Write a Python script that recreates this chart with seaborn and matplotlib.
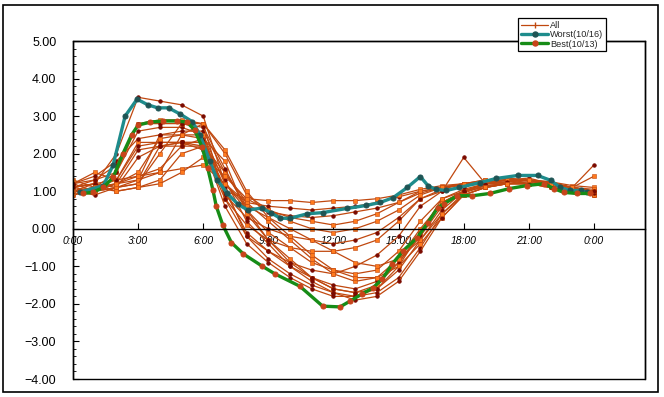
import matplotlib
matplotlib.use("Agg")
import matplotlib.pyplot as plt
import seaborn as sns
import pandas as pd
from matplotlib.patches import Rectangle
from matplotlib.lines import Line2D
from matplotlib.ticker import MultipleLocator, FixedLocator

# ---------------- data ----------------
hours = list(range(25))

day01 = [1.1, 1.2, 2.0, 3.5, 3.4, 3.3, 3.0, 1.2, 0.7, 0.6, 0.55, 0.5, 0.55, 0.6, 0.7, 0.85, 1.0, 1.1, 1.2, 1.25, 1.3, 1.3, 1.2, 1.1, 1.0]
day02 = [1.0, 1.1, 1.3, 2.3, 2.3, 2.3, 2.2, 1.0, 0.8, 0.75, 0.75, 0.7, 0.75, 0.75, 0.8, 0.9, 1.05, 1.15, 1.2, 1.3, 1.35, 1.3, 1.25, 1.15, 1.1]
day03 = [1.2, 1.0, 1.1, 1.3, 2.5, 2.6, 2.6, 1.5, 0.6, 0.45, 0.35, 0.3, 0.35, 0.45, 0.55, 0.7, 0.95, 1.1, 1.15, 1.25, 1.3, 1.35, 1.2, 1.1, 0.95]
day04 = [1.1, 1.3, 1.5, 2.8, 2.9, 2.9, 2.8, 0.8, 0.1, -0.3, -0.5, -0.6, -0.6, -0.5, -0.3, 0.2, 0.8, 1.05, 1.2, 1.3, 1.3, 1.3, 1.2, 1.05, 0.95]
day05 = [1.0, 0.9, 1.1, 1.2, 2.2, 2.3, 2.3, 1.1, -0.2, -0.6, -0.9, -1.1, -1.2, -1.0, -0.7, -0.2, 0.6, 1.0, 1.15, 1.2, 1.3, 1.3, 1.2, 1.1, 1.0]
day06 = [1.2, 1.5, 1.3, 1.4, 1.6, 2.2, 2.4, 1.8, 0.4, -0.3, -0.8, -1.3, -1.6, -1.7, -1.5, -0.9, -0.1, 0.7, 1.0, 1.15, 1.2, 1.25, 1.2, 1.1, 0.9]
day07 = [0.9, 1.0, 1.2, 2.1, 2.2, 2.2, 2.2, 0.6, -0.4, -0.9, -1.3, -1.6, -1.8, -1.8, -1.6, -1.0, -0.1, 0.8, 1.05, 1.2, 1.25, 1.3, 1.15, 1.05, 0.9]
day08 = [1.1, 1.2, 1.0, 1.1, 1.3, 2.0, 2.2, 1.5, 0.7, 0.2, -0.3, -0.8, -1.2, -1.4, -1.3, -0.8, 0.0, 0.7, 1.0, 1.2, 1.25, 1.3, 1.2, 1.1, 1.0]
day09 = [1.0, 1.1, 1.5, 2.6, 2.7, 2.7, 2.5, 0.9, 0.3, 0.0, -0.2, -0.3, -0.4, -0.3, -0.1, 0.3, 0.8, 1.0, 1.9, 1.2, 1.2, 1.25, 1.1, 1.0, 1.0]
day10 = [1.3, 1.1, 1.2, 1.3, 1.5, 2.5, 2.8, 2.0, 0.9, 0.5, 0.2, 0.0, -0.1, 0.0, 0.2, 0.5, 0.9, 1.1, 1.2, 1.25, 1.3, 1.3, 1.2, 1.1, 1.05]
day11 = [1.0, 1.2, 1.1, 1.9, 2.2, 2.3, 2.3, 1.3, 0.2, -0.4, -1.0, -1.4, -1.7, -1.8, -1.7, -1.3, -0.5, 0.4, 0.95, 1.15, 1.2, 1.2, 1.1, 1.0, 0.9]
day12 = [1.1, 1.0, 1.2, 1.4, 1.5, 1.6, 1.7, 1.2, 0.5, -0.1, -0.5, -0.9, -1.1, -1.2, -1.1, -0.6, 0.2, 0.8, 1.0, 1.1, 1.2, 1.2, 1.15, 1.05, 0.95]
day13 = [1.2, 1.4, 1.8, 2.4, 2.5, 2.5, 2.4, 1.0, -0.1, -0.6, -1.0, -1.3, -1.5, -1.6, -1.4, -0.9, -0.2, 0.6, 1.0, 1.2, 1.3, 1.3, 1.25, 1.1, 1.7]
day14 = [1.0, 1.0, 1.1, 1.2, 2.0, 2.8, 2.8, 2.1, 1.0, 0.3, -0.2, -0.7, -1.1, -1.3, -1.3, -1.0, -0.4, 0.3, 0.9, 1.1, 1.2, 1.2, 1.1, 1.0, 0.9]
day15 = [1.1, 1.2, 1.3, 2.2, 2.3, 2.3, 2.1, 0.8, -0.2, -0.8, -1.2, -1.5, -1.7, -1.9, -1.8, -1.4, -0.6, 0.3, 0.9, 1.1, 1.2, 1.2, 1.1, 1.0, 0.95]
day16 = [0.9, 1.1, 1.0, 1.1, 1.2, 1.5, 1.9, 1.4, 0.8, 0.5, 0.3, 0.2, 0.1, 0.2, 0.4, 0.7, 1.0, 1.1, 1.2, 1.25, 1.3, 1.3, 1.2, 1.1, 1.0]
day17 = [1.2, 1.3, 1.7, 2.8, 2.8, 2.8, 2.7, 1.6, 0.5, -0.3, -0.9, -1.3, -1.6, -1.7, -1.6, -1.1, -0.3, 0.5, 1.0, 1.2, 1.25, 1.3, 1.2, 1.1, 1.0]
day18 = [1.0, 1.1, 1.2, 1.5, 2.4, 2.5, 2.5, 1.2, 0.6, 0.3, 0.0, -0.3, -0.6, -0.9, -1.0, -0.8, -0.3, 0.4, 0.9, 1.1, 1.2, 1.3, 1.2, 1.1, 1.4]

all_days = [day01, day02, day03, day04, day05, day06, day07, day08, day09,
            day10, day11, day12, day13, day14, day15, day16, day17, day18]

worst_hours = [0.3, 1.4, 1.85, 2.4, 2.95, 3.45, 3.9, 4.4, 4.95, 5.5, 5.85, 6.3, 6.65, 7.1, 7.6, 8.05,
               8.7, 9.1, 9.55, 10.0, 10.8, 11.5, 12.6, 13.5, 14.15, 14.75, 15.4, 16.0, 16.35, 16.7,
               17.2, 17.8, 18.75, 19.5, 20.5, 21.4, 22.0, 22.45, 22.9, 23.4, 23.7]
worst_values = [0.97, 1.15, 1.7, 3.0, 3.45, 3.3, 3.22, 3.22, 3.05, 2.85, 2.5, 1.8, 1.3, 0.95, 0.65, 0.5,
                0.55, 0.43, 0.28, 0.28, 0.4, 0.43, 0.54, 0.62, 0.7, 0.83, 1.1, 1.39, 1.15, 1.05,
                1.02, 1.1, 1.23, 1.34, 1.42, 1.42, 1.29, 1.1, 1.02, 1.02, 0.97]

best_hours = [0.45, 0.9, 1.4, 1.85, 2.3, 2.7, 3.0, 3.55, 4.15, 4.8, 5.25, 5.6, 5.95, 6.2, 6.45, 6.6,
              6.9, 7.3, 7.85, 8.7, 9.3, 10.45, 11.5, 12.3, 12.75, 13.3, 13.8, 14.25, 14.7, 15.2,
              15.85, 16.35, 16.8, 17.1, 17.7, 18.4, 19.2, 20.1, 20.9, 21.7, 22.15, 22.6, 23.2, 23.8]
best_values = [0.94, 0.97, 1.1, 1.37, 2.0, 2.5, 2.76, 2.84, 2.87, 2.87, 2.84, 2.63, 2.17, 1.63, 1.02, 0.6,
               0.1, -0.37, -0.67, -0.99, -1.2, -1.53, -2.06, -2.08, -1.93, -1.74, -1.58, -1.34, -0.94, -0.59,
               -0.24, 0.16, 0.56, 0.67, 0.88, 0.88, 0.94, 1.07, 1.15, 1.2, 1.07, 0.97, 0.94, 0.94]

tick_hours = [0, 3, 6, 9, 12, 15, 18, 21, 24]
tick_labels = ["0:00", "3:00", "6:00", "9:00", "12:00", "15:00", "18:00", "21:00", "0:00"]
y_ticks = [5, 4, 3, 2, 1, 0, -1, -2, -3, -4]
legend_labels = ["All", "Worst(10/16)", "Best(10/13)"]

# ---------------- style ----------------
ALL_COLOR = "#C0480F"
ALL_MK_DARK = "#7A0A00"
ALL_MK_ORANGE = "#FF7A1E"
WORST_COLOR = "#1E8C8C"
WORST_MK = "#1F5555"
BEST_COLOR = "#168C16"
BEST_MK = "#C8441A"

sns.set_theme(style="white")
plt.rcParams["font.family"] = ["Liberation Sans", "DejaVu Sans"]

W, H = 664, 397
fig = plt.figure(figsize=(W / 100, H / 100), dpi=100)
fig.patch.set_facecolor("white")
ax = fig.add_axes([73 / W, (H - 379) / H, (645 - 73) / W, (379 - 41) / H])
ax.set_facecolor("white")

for i, vals in enumerate(all_days):
    d = pd.DataFrame({"hour": hours, "value": vals})
    if i % 2 == 0:
        mk = dict(marker="o", markersize=2.4, markerfacecolor=ALL_MK_DARK, markeredgecolor=ALL_MK_DARK)
    else:
        mk = dict(marker="s", markersize=2.6, markerfacecolor=ALL_MK_ORANGE, markeredgecolor=ALL_COLOR,
                  markeredgewidth=0.4)
    sns.lineplot(data=d, x="hour", y="value", ax=ax, color=ALL_COLOR, linewidth=0.9,
                 estimator=None, sort=False, legend=False, **mk)

dw = pd.DataFrame({"hour": worst_hours, "value": worst_values})
sns.lineplot(data=dw, x="hour", y="value", ax=ax, color=WORST_COLOR, linewidth=2.4,
             estimator=None, sort=False, legend=False, marker="o", markersize=3.6,
             markerfacecolor=WORST_MK, markeredgecolor=WORST_MK)
db = pd.DataFrame({"hour": best_hours, "value": best_values})
sns.lineplot(data=db, x="hour", y="value", ax=ax, color=BEST_COLOR, linewidth=2.4,
             estimator=None, sort=False, legend=False, marker="o", markersize=3.6,
             markerfacecolor=BEST_MK, markeredgecolor=BEST_MK)

ax.set_xlim(0, 26.35)
ax.set_ylim(-4, 5)
ax.set_xlabel("")
ax.set_ylabel("")

# y axis
ax.yaxis.set_major_locator(FixedLocator(y_ticks))
ax.set_yticklabels([f"{v:.2f}".replace("-", "\u2212") for v in y_ticks], fontsize=9)
ax.yaxis.set_minor_locator(MultipleLocator(0.2))
ax.tick_params(axis="y", which="major", direction="in", length=4, width=0.8, color="black",
               pad=12, left=True, labelcolor="black")
ax.tick_params(axis="y", which="minor", direction="in", length=2, width=0.6, color="black", left=True)

# x axis placed at y = 0
ax.spines["bottom"].set_position(("data", 0))
ax.set_xticks(tick_hours)
ax.set_xticklabels(tick_labels, fontsize=7.5, fontstyle="italic")
ax.tick_params(axis="x", which="major", direction="in", length=4, width=0.8, color="black",
               pad=5, bottom=True, labelcolor="black")
for s in ["top", "right", "left", "bottom"]:
    ax.spines[s].set_color("black")
    ax.spines[s].set_linewidth(1.0)
ax.add_patch(Rectangle((0, 0), 1, 1, transform=ax.transAxes, fill=False,
                       edgecolor="black", linewidth=1.0, clip_on=False, zorder=5))
ax.grid(False)

# legend
handles = [
    Line2D([], [], color=ALL_COLOR, lw=0.9, marker="|", markersize=4, markeredgecolor=ALL_COLOR),
    Line2D([], [], color=WORST_COLOR, lw=2.4, marker="o", markersize=3.6,
           markerfacecolor=WORST_MK, markeredgecolor=WORST_MK),
    Line2D([], [], color=BEST_COLOR, lw=2.4, marker="o", markersize=3.6,
           markerfacecolor=BEST_MK, markeredgecolor=BEST_MK),
]
leg = fig.legend(handles, legend_labels, loc="upper left",
                 bbox_to_anchor=(518 / W, 1 - 18 / H), frameon=True, fancybox=False,
                 edgecolor="black", framealpha=1, fontsize=6.6, handlelength=3.0,
                 handletextpad=0.2, borderpad=0.3, labelspacing=0.05, borderaxespad=0)
leg.get_frame().set_linewidth(0.9)

# outer chart border
fig.add_artist(Rectangle((3 / W, 5 / H), (658 - 3) / W, (392 - 5) / H, transform=fig.transFigure,
                         fill=False, edgecolor="black", linewidth=1.2))

fig.savefig("out.png", dpi=100, facecolor="white")
